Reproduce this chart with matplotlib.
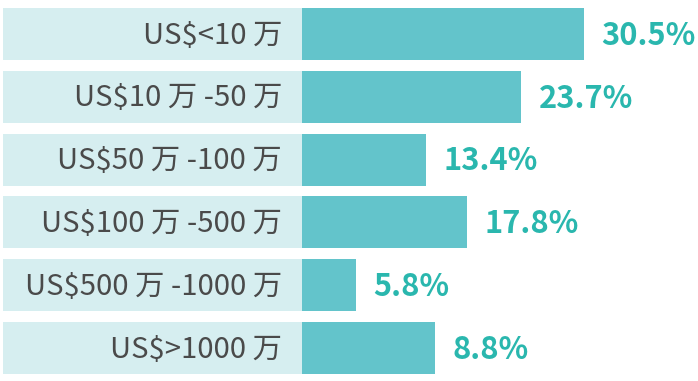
import matplotlib
matplotlib.use("Agg")
import matplotlib.pyplot as plt

plt.rcParams['font.family'] = ['Noto Sans CJK SC', 'DejaVu Sans']

categories = ["US$<10 万", "US$10 万 -50 万", "US$50 万 -100 万",
              "US$100 万 -500 万", "US$500 万 -1000 万", "US$>1000 万"]
shares = [30.5, 23.7, 13.4, 17.8, 5.8, 8.8]
# bar lengths as drawn in the picture (the last one is longer than its label)
bar_lengths = [30.5, 23.7, 13.4, 17.8, 5.8, 14.4]

px = 9.246  # pixels per percent
fig = plt.figure(figsize=(6.98, 3.81), dpi=100)
ax = fig.add_axes([0, 0, 1, 1])

y = list(range(len(categories)))
ax.barh(y, [299 / px] * len(y), left=-299 / px, height=0.83, color="#d6eef0")
ax.barh(y, bar_lengths, left=0, height=0.83, color="#63c4cb")

for i in y:
    ax.text(-20 / px, i + 0.025, categories[i], ha="right", va="center",
            fontsize=21.1, color="#4a4a4a")
    ax.text(bar_lengths[i] + 17.5 / px, i + 0.03, f"{shares[i]}%", ha="left",
            va="center", fontsize=22.2, fontweight="bold", color="#2ab7ae")

ax.set_xlim(-302 / px, 396 / px)
ax.set_ylim(5.525, -0.541)
ax.axis("off")

fig.savefig("out.png", dpi=100)
